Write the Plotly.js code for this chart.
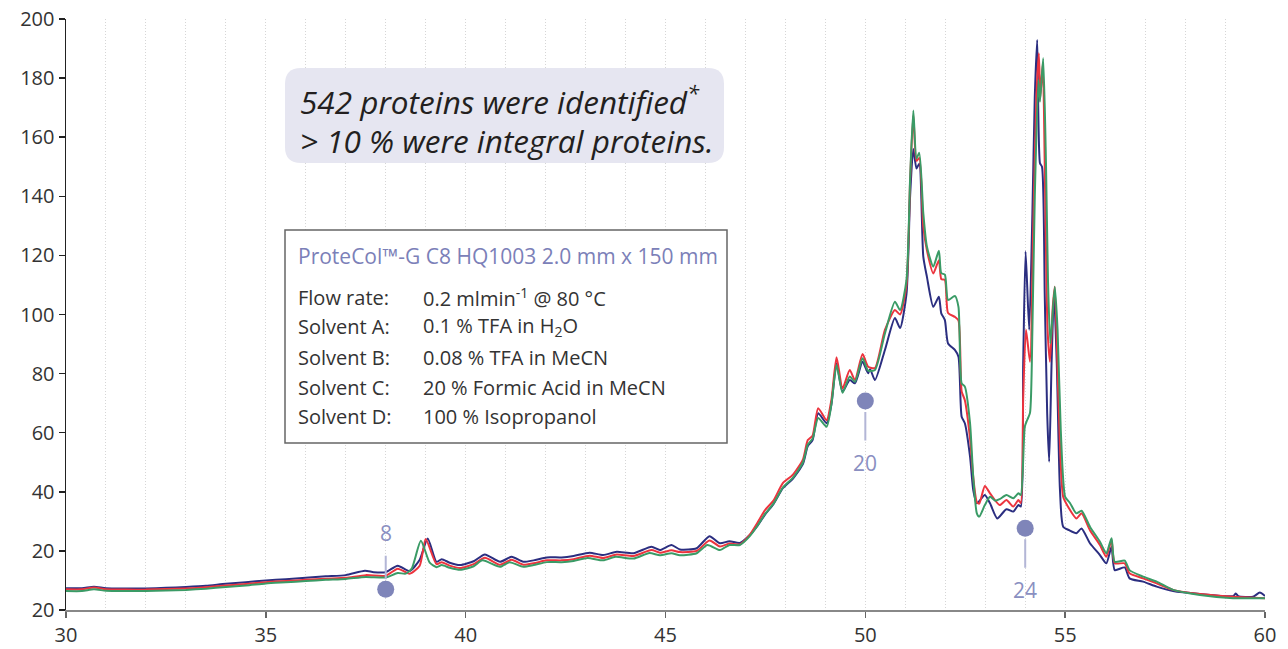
<!DOCTYPE html>
<html>
<head>
<meta charset="utf-8">
<script src="https://cdn.plot.ly/plotly-3.0.1.min.js"></script>
<style>html,body{margin:0;padding:0;background:#fff;}#chart{width:1288px;height:649px;}</style>
</head>
<body>
<div id="chart"></div>
<script>
// ---------- DATA ----------
const blueTime = [30,30.4,30.7,31,31.5,32,32.5,33,33.5,34,34.5,35,35.5,36,36.5,37,37.48,37.7,38,38.3,38.6,38.85,39.05,39.27,39.4,39.6,39.86,40.2,40.48,40.86,41.15,41.44,41.7,42.03,42.4,42.7,43.1,43.44,43.78,44.2,44.65,44.86,45.15,45.36,45.78,46.1,46.36,46.6,46.86,47.11,47.3,47.49,47.7,47.94,48.19,48.44,48.56,48.68,48.82,49.03,49.15,49.28,49.43,49.61,49.74,49.93,50.07,50.12,50.24,50.49,50.74,50.87,51.03,51.12,51.2,51.28,51.35,51.45,51.54,51.7,51.84,51.9,51.99,52.07,52.24,52.33,52.41,52.49,52.62,52.7,52.79,52.99,53.12,53.3,53.53,53.7,53.83,53.89,53.95,54.01,54.1,54.18,54.24,54.3,54.37,54.42,54.49,54.55,54.6,54.66,54.72,54.79,54.87,54.95,55.1,55.28,55.41,55.62,55.87,56.03,56.16,56.24,56.49,56.61,56.95,57.29,57.7,58.37,59.2,59.27,59.33,59.7,59.87,60];
const blueSignal = [7.4,7.4,7.9,7.4,7.3,7.3,7.5,7.8,8.2,8.9,9.4,10.0,10.4,10.9,11.4,11.8,13.3,12.8,12.8,15.0,13.2,17,24.2,16.3,17.2,16.0,15.2,16.5,18.8,16.3,18.0,16.3,16.8,17.8,17.8,18.3,19.4,18.6,19.7,19.2,21.4,20.3,22,20.5,20.9,25.0,22.6,23.3,22.7,25.4,28.5,32.3,35.8,41.3,44.5,49.5,55.5,57.5,66.6,63.2,69.5,83.5,73.9,77.8,76.7,84,80.1,81.5,77.8,88,98.8,95.4,107,140,156,149.4,151,119.6,112.8,102.6,106,100.4,98.1,90.2,88,85.7,65.4,63.2,51.9,40.6,36.1,38.9,36.1,31,34.1,33.3,35.5,35,83.5,121.3,94.8,134.2,173.7,192.9,151.2,150,106,66.6,50.2,83.5,107.2,83.5,40.6,28.2,27,26,27.6,22.6,18.6,15.8,21.4,13.5,14.4,10.7,9.6,7.9,6.4,5.4,4.7,5.6,4.7,4.5,5.9,4.7];

const redTime = [30,30.4,30.7,31,31.5,32,32.5,33,33.5,34,34.5,35,35.5,36,36.5,37,37.5,38,38.3,38.6,38.85,39.0,39.27,39.4,39.6,39.86,40.2,40.48,40.86,41.15,41.44,41.7,42.03,42.4,42.7,43.1,43.44,43.78,44.2,44.65,44.86,45.15,45.36,45.78,46.1,46.36,46.6,46.86,47.11,47.3,47.49,47.7,47.94,48.19,48.44,48.56,48.68,48.82,49.03,49.15,49.28,49.43,49.61,49.74,49.93,50.07,50.24,50.49,50.74,50.87,51.03,51.12,51.2,51.28,51.35,51.45,51.54,51.7,51.84,51.9,51.99,52.07,52.24,52.33,52.41,52.49,52.62,52.7,52.79,52.85,52.99,53.12,53.36,53.53,53.7,53.83,53.89,53.95,54.02,54.12,54.2,54.28,54.34,54.38,54.44,54.5,54.56,54.62,54.69,54.74,54.83,54.95,55.07,55.28,55.41,55.62,55.87,56.03,56.16,56.24,56.49,56.61,56.95,57.29,57.7,58.37,59.2,60];
const redSignal = [7.0,7.0,7.6,7.0,6.9,6.9,7.1,7.3,7.7,8.3,8.8,9.4,9.8,10.2,10.6,10.9,11.8,11.6,14.0,12.3,15,24.0,15.5,16.2,15.0,14.2,15.5,17.7,15.3,17.0,15.3,15.8,16.8,16.8,17.2,18.4,17.6,18.8,18.3,20.3,19.4,20.2,19.6,20.0,23.5,21.5,22.5,22.2,25.5,29.5,33.8,37,43,45.8,51,57.5,59,68.3,64.2,71,85.5,75,81.2,77.8,86.6,82.3,81.9,94.8,101.5,100,110,145,167.5,152,153,129.7,121.8,113.9,118.4,112,111.7,100.5,99.2,98,74,71,58,45,36.5,36,42,39.5,35.5,37.2,35,37.2,36.2,72.2,94.8,84,128.6,173.7,188.4,173.7,185,139.9,94.8,84,102.6,109.4,72.2,38.3,35,31,32.7,27,22,18,23.7,15.8,15.8,12.4,10.7,9,6.8,5.4,4.5,4];

const greenTime = [30,30.4,30.7,31,31.5,32,32.5,33,33.5,34,34.5,35,35.5,36,36.5,37,37.5,38,38.3,38.5,38.65,38.88,39.1,39.27,39.4,39.6,39.86,40.2,40.42,40.86,41.1,41.44,41.7,42.03,42.4,42.7,43.05,43.44,43.75,44.2,44.6,44.86,45.15,45.36,45.78,46.05,46.36,46.6,46.86,47.11,47.3,47.49,47.7,47.94,48.19,48.44,48.56,48.68,48.82,49.03,49.15,49.28,49.43,49.61,49.74,49.93,50.07,50.24,50.49,50.74,50.87,51.03,51.12,51.2,51.28,51.35,51.45,51.54,51.7,51.84,51.9,51.99,52.07,52.24,52.33,52.41,52.49,52.62,52.7,52.79,52.85,52.99,53.12,53.25,53.36,53.53,53.7,53.83,53.89,53.99,54.05,54.12,54.18,54.24,54.33,54.37,54.45,54.52,54.57,54.63,54.74,54.81,54.89,55.0,55.12,55.28,55.41,55.62,55.87,56.03,56.16,56.24,56.49,56.61,56.95,57.29,57.7,58.37,59.2,60];
const greenSignal = [6.4,6.4,7.0,6.5,6.4,6.4,6.6,6.8,7.2,7.8,8.3,9.0,9.4,9.8,10.2,10.5,11.2,11.0,12.5,12.3,14,23.4,16,14.5,15.2,14.3,13.6,14.8,16.8,14.6,16.2,14.6,15.2,16.2,16.2,16.6,17.6,16.8,18,17.4,19.3,18.5,19.2,18.5,19.2,22,20.3,22.0,22.0,25,28.5,32.5,36,41.5,44.8,50,56,58,65,62,69.5,82.9,73.5,79,77.2,85.2,81,81.2,93.6,104.3,101.5,111.7,146,169,152.8,154.7,134.3,123,116.2,121.6,114,113.5,104.9,106.3,102.6,76.7,75.6,63.2,45,32.7,31.6,35.5,38.3,37,37.5,38.9,37.8,39.5,38.9,62,64.3,66.7,94.8,139.9,179.4,172,186.7,151.2,111.7,90.2,109.4,94.8,60.9,38.3,36.2,32.7,33.6,28.2,23.1,19.2,24.3,16.3,16.7,13.5,11.3,9.6,6.8,5.1,4,4];

// fraction markers
const fractionTime = [38, 50, 54];
const fractionLevel = [7.0, 70.7, 27.7];
const fractionLabel = ['8', '20', '24'];

const yTickVals = [0,20,40,60,80,100,120,140,160,180,200];
const yTickText = ['20','20','40','60','80','100','120','140','160','180','200'];
const xTickVals = [30,35,40,45,50,55,60];

const headline = ['542 proteins were identified<sup>*</sup>', '&gt; 10 % were integral proteins.'];
const infoTitle = 'ProteCol™-G C8 HQ1003 2.0 mm x 150 mm';
const infoLabels = ['Flow rate:', 'Solvent A:', 'Solvent B:', 'Solvent C:', 'Solvent D:'];
const infoValues = ['0.2 mlmin<sup>-1</sup> @ 80 °C', '0.1 % TFA in H<sub>2</sub>O', '0.08 % TFA in MeCN', '20 % Formic Acid in MeCN', '100 % Isopropanol'];

// ---------- LAYOUT HELPERS ----------
const W = 1288, H = 649;
const M = {l: 66, r: 23, t: 19, b: 39};
const PW = W - M.l - M.r, PH = H - M.t - M.b;
const px = x => (x - M.l) / PW;          // pixel -> paper x
const py = y => (H - M.b - y) / PH;      // pixel -> paper y

function roundRect(x0, y0, x1, y1, r) {
  const rx = r / PW, ry = r / PH;
  const X0 = px(x0), X1 = px(x1), Y0 = py(y1), Y1 = py(y0);
  return `M ${X0+rx} ${Y0} L ${X1-rx} ${Y0} Q ${X1} ${Y0} ${X1} ${Y0+ry} L ${X1} ${Y1-ry} Q ${X1} ${Y1} ${X1-rx} ${Y1} L ${X0+rx} ${Y1} Q ${X0} ${Y1} ${X0} ${Y1-ry} L ${X0} ${Y0+ry} Q ${X0} ${Y0} ${X0+rx} ${Y0} Z`;
}

const FONT = 'Open Sans, Noto Sans, sans-serif';

const lineTrace = (t, y, color) => ({
  x: t, y: y, type: 'scatter', mode: 'lines',
  line: {color: color, width: 2, shape: 'spline', smoothing: 0.6},
  hoverinfo: 'skip', showlegend: false
});

const traces = [
  lineTrace(blueTime, blueSignal, '#2b2e80'),
  lineTrace(redTime, redSignal, '#ec343e'),
  lineTrace(greenTime, greenSignal, '#3a9b66'),
  {x: fractionTime, y: fractionLevel, type: 'scatter', mode: 'markers',
   marker: {color: '#7f85b9', size: 17}, hoverinfo: 'skip', showlegend: false}
];

const annotations = [];
// fraction labels with leader lines
const offsets = [-56, 62, 62];
fractionTime.forEach((t, i) => {
  annotations.push({
    x: t, y: fractionLevel[i], xref: 'x', yref: 'y', text: fractionLabel[i],
    showarrow: true, arrowhead: 0, arrowwidth: 2, arrowcolor: '#b3b6d6',
    ax: 0, ay: offsets[i], standoff: offsets[i] < 0 ? 10 : 11, startstandoff: 7,
    font: {family: FONT, size: 21, color: '#8a8fc1'}
  });
});
// headline
headline.forEach((txt, i) => {
  annotations.push({
    xref: 'paper', yref: 'paper', x: px(298), y: py(100 + i * 40),
    xanchor: 'left', yanchor: 'middle', showarrow: false, text: txt,
    font: {family: FONT, size: 31.5, color: '#231f20', style: 'italic'}
  });
});
// info box
annotations.push({
  xref: 'paper', yref: 'paper', x: px(296), y: py(256),
  xanchor: 'left', yanchor: 'middle', showarrow: false, text: infoTitle,
  font: {family: FONT, size: 21, color: '#7b80b8'}
});
infoLabels.forEach((lab, i) => {
  const yy = py(297 + i * 30);
  annotations.push({xref: 'paper', yref: 'paper', x: px(296), y: yy, xanchor: 'left', yanchor: 'middle',
    showarrow: false, text: lab, font: {family: FONT, size: 20, color: '#333'}});
  annotations.push({xref: 'paper', yref: 'paper', x: px(421), y: yy, xanchor: 'left', yanchor: 'middle',
    showarrow: false, text: infoValues[i], font: {family: FONT, size: 20, color: '#333'}});
});

const shapes = [
  {type: 'path', xref: 'paper', yref: 'paper', path: roundRect(285, 68, 724, 163, 16),
   fillcolor: '#e6e6f1', line: {width: 0}, layer: 'above'},
  {type: 'rect', xref: 'paper', yref: 'paper', x0: px(285), x1: px(727), y0: py(443), y1: py(230),
   fillcolor: '#ffffff', line: {color: '#666', width: 1.5}, layer: 'above'}
];

const gridStyle = {gridcolor: '#d6d6d6', griddash: '1px,2px', gridwidth: 1};

const layout = {
  width: W, height: H, margin: M,
  paper_bgcolor: '#fff', plot_bgcolor: '#fff',
  showlegend: false,
  font: {family: FONT, color: '#333'},
  xaxis: Object.assign({
    range: [30, 60], tickvals: xTickVals, ticks: 'outside', ticklen: 6, tickwidth: 1.5, tickcolor: '#666',
    showline: true, linecolor: '#888', linewidth: 1.5, showgrid: true,
    minor: Object.assign({dtick: 1, showgrid: true, ticks: ''}, gridStyle),
    zeroline: false, tickfont: {family: FONT, size: 20, color: '#333'}, fixedrange: true
  }, gridStyle),
  yaxis: {
    range: [0, 200], tickvals: yTickVals, ticktext: yTickText, ticks: 'outside', ticklen: 6, tickwidth: 1.5,
    tickcolor: '#222', showline: true, linecolor: '#222', linewidth: 1.5, showgrid: false, zeroline: false,
    tickfont: {family: FONT, size: 20, color: '#333'}, fixedrange: true
  },
  shapes: shapes,
  annotations: annotations
};

Plotly.newPlot('chart', traces, layout, {displayModeBar: false, staticPlot: true});
</script>
</body>
</html>
